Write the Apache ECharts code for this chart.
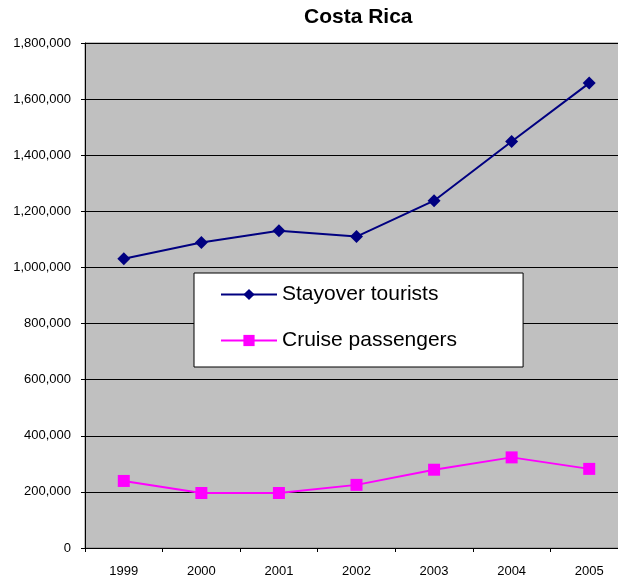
<!DOCTYPE html>
<html>
<head>
<meta charset="utf-8">
<script src="https://cdn.jsdelivr.net/npm/echarts@6/dist/echarts.min.js"></script>
<style>
html,body{margin:0;padding:0;background:#fff;}
#chart{width:618px;height:577px;}
</style>
</head>
<body>
<div id="chart"></div>
<script>
var titleText = 'Costa Rica';
var categories = ['1999', '2000', '2001', '2002', '2003', '2004', '2005'];
var stayoverName = 'Stayover tourists';
var stayover = [1031000, 1089000, 1131000, 1110000, 1238000, 1449000, 1657000];
var cruiseName = 'Cruise passengers';
var cruise = [239000, 196000, 196000, 225000, 279000, 323000, 282000];
var yMin = 0, yMax = 1800000, yInterval = 200000;

var FONT = "Arial, 'Liberation Sans', sans-serif";
var chart = echarts.init(document.getElementById('chart'), null, {renderer: 'canvas'});
chart.setOption({
  animation: false,
  backgroundColor: '#ffffff',
  title: {
    text: titleText,
    left: 304,
    top: 7,
    padding: 0,
    textStyle: {fontFamily: FONT, fontSize: 21, fontWeight: 'bold', color: '#000'}
  },
  legend: {
    orient: 'vertical',
    left: 194,
    top: 273,
    itemWidth: 56,
    itemHeight: 14,
    itemGap: 25,
    padding: [11, 66, 16, 26],
    backgroundColor: '#ffffff',
    borderColor: '#000000',
    borderWidth: 1,
    borderRadius: 0,
    textStyle: {fontFamily: FONT, fontSize: 21, color: '#000', lineHeight: 21},
    data: [stayoverName, cruiseName]
  },
  grid: {
    left: 85, top: 43, width: 543, height: 505,
    show: true,
    backgroundColor: '#C0C0C0',
    borderColor: '#808080',
    borderWidth: 1,
    containLabel: false,
    outerBoundsMode: 'none'
  },
  xAxis: {
    type: 'category',
    data: categories,
    boundaryGap: true,
    axisLine: {lineStyle: {color: '#000', width: 1}},
    axisTick: {show: true, length: 4, inside: false, alignWithLabel: false, lineStyle: {color: '#000'}},
    axisLabel: {fontFamily: FONT, fontSize: 13, color: '#000', margin: 17},
    splitLine: {show: false}
  },
  yAxis: {
    type: 'value',
    min: yMin, max: yMax, interval: yInterval,
    axisLine: {show: true, lineStyle: {color: '#000', width: 1}},
    axisTick: {show: true, length: 4, inside: false, lineStyle: {color: '#000'}},
    axisLabel: {
      fontFamily: FONT, fontSize: 13, color: '#000', margin: 14,
      formatter: function (v) { return v.toLocaleString('en-US'); }
    },
    splitLine: {show: true, lineStyle: {color: '#000', width: 1}}
  },
  series: [
    {
      name: stayoverName,
      type: 'line',
      data: stayover,
      symbol: 'diamond',
      symbolSize: 13,
      showAllSymbol: true,
      itemStyle: {color: '#000080'},
      lineStyle: {color: '#000080', width: 2}
    },
    {
      name: cruiseName,
      type: 'line',
      data: cruise,
      symbol: 'rect',
      symbolSize: 12,
      showAllSymbol: true,
      itemStyle: {color: '#FF00FF'},
      lineStyle: {color: '#FF00FF', width: 2}
    }
  ]
});
</script>
</body>
</html>
